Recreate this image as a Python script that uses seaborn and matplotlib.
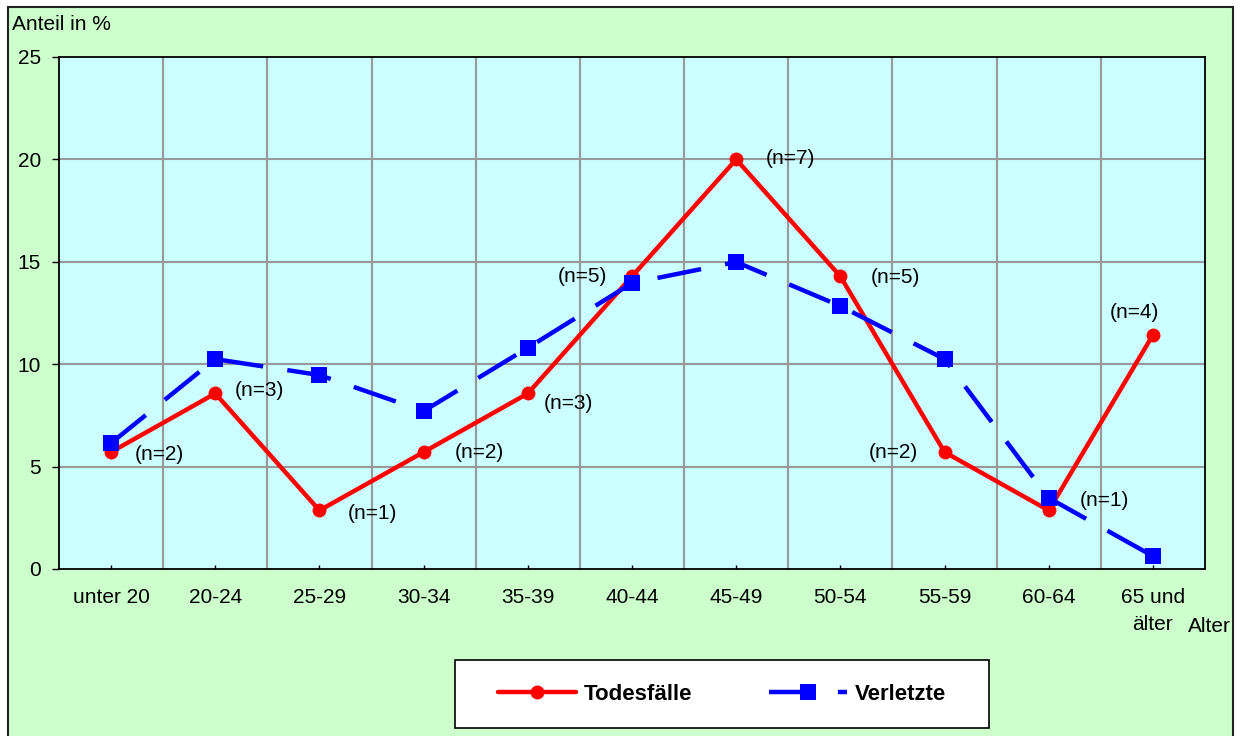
import matplotlib
matplotlib.use("Agg")
import matplotlib.pyplot as plt
from matplotlib.patches import Rectangle
import seaborn as sns
import pandas as pd

categories = ["unter 20", "20-24", "25-29", "30-34", "35-39", "40-44",
              "45-49", "50-54", "55-59", "60-64", "65 und\nälter"]
todesfaelle = [5.71, 8.57, 2.86, 5.71, 8.57, 14.29, 20.0, 14.29, 5.71, 2.86, 11.43]
verletzte = [6.15, 10.25, 9.47, 7.71, 10.8, 13.96, 14.99, 12.84, 10.25, 3.47, 0.63]
n_labels = ["(n=2)", "(n=3)", "(n=1)", "(n=2)", "(n=3)", "(n=5)",
            "(n=7)", "(n=5)", "(n=2)", "(n=1)", "(n=4)"]
yticks = [0, 5, 10, 15, 20, 25]

# label placement (layout): pixel offsets and alignment
n_offsets = [(24, -2, "left"), (19, 3, "left"), (28, -3, "left"), (31, 0, "left"),
             (16, -10, "left"), (-25, 0, "right"), (30, 1, "left"), (30, -1, "left"),
             (-27, 0, "right"), (31, 10, "left"), (-18, 22, "center")]

sns.set_style("white")
plt.rcParams["font.family"] = ["Liberation Sans", "DejaVu Sans"]
plt.rcParams["text.color"] = "black"

W, H = 1245, 736
fig = plt.figure(figsize=(W / 100, H / 100), dpi=100)
fig.patch.set_facecolor("white")

# outer green frame
fig.patches.append(Rectangle((8 / W, -0.01), (1233 - 8) / W, 1 - 7 / H + 0.01,
                             transform=fig.transFigure, facecolor="#CCFFCC",
                             edgecolor="#222222", linewidth=1.5, zorder=0))

ax = fig.add_axes([59 / W, (736 - 569) / H, (1205 - 59) / W, (569 - 57) / H])
ax.set_zorder(2)
ax.set_facecolor("#CCFFFF")

df = pd.DataFrame({"Alter": categories, "Todesfälle": todesfaelle, "Verletzte": verletzte})

sns.lineplot(data=df, x="Alter", y="Todesfälle", ax=ax, sort=False, color="#FF0000",
             linewidth=3.2, marker="o", markersize=10, markeredgewidth=0,
             label="Todesfälle", zorder=3)
sns.lineplot(data=df, x="Alter", y="Verletzte", ax=ax, sort=False, color="#0000FF",
             linewidth=3.2, marker="s", markersize=11, markeredgewidth=0,
             label="Verletzte", zorder=4)
for l in ax.get_lines():
    if l.get_color() == "#0000FF":
        l.set_dashes((10, 5.5))

handles, labels = ax.get_legend_handles_labels()
ax.get_legend().remove()

ax.set_xlim(-0.5, len(categories) - 0.5)
ax.set_ylim(0, 25)
ax.set_yticks(yticks)
ax.set_xticks(range(len(categories)))
ax.set_xticklabels(categories)
for lbl in ax.get_xticklabels():
    lbl.set_linespacing(1.5)
ax.set_xlabel("")
ax.set_ylabel("")

# grid at category boundaries and at y ticks
for i in range(len(categories) - 1):
    ax.axvline(i + 0.5, color="#999999", linewidth=1.5, zorder=1)
for y in yticks[1:-1]:
    ax.axhline(y, color="#999999", linewidth=1.5, zorder=1)

for s in ax.spines.values():
    s.set_color("black")
    s.set_linewidth(1.3)
    s.set_visible(True)

ax.tick_params(axis="x", direction="in", length=3, width=1, pad=14, labelsize=15,
               color="black", labelcolor="black", bottom=True)
ax.tick_params(axis="y", direction="out", length=5, width=1, pad=8, labelsize=15,
               color="black", labelcolor="black", left=True)

for i, (v, t) in enumerate(zip(todesfaelle, n_labels)):
    dx, dy, ha = n_offsets[i]
    ax.annotate(t, (i, v), xytext=(dx, dy), textcoords="offset pixels",
                ha=ha, va="center", fontsize=15, color="black", zorder=5)

fig.text(12 / W, 1 - 25 / H, "Anteil in %", ha="left", va="center", fontsize=15)
fig.text(1188 / W, 1 - 627 / H, "Alter", ha="left", va="center", fontsize=15)

# legend box
lx0, lx1, ly0, ly1 = 455, 989, 660, 728
fig.patches.append(Rectangle((lx0 / W, 1 - ly1 / H), (lx1 - lx0) / W, (ly1 - ly0) / H,
                             transform=fig.transFigure, facecolor="white",
                             edgecolor="black", linewidth=1.2, zorder=1))
leg = fig.legend(handles, labels, loc="center",
                 bbox_to_anchor=((lx0 + lx1) / 2 / W, 1 - (ly0 + ly1) / 2 / H),
                 ncol=2, frameon=False, handlelength=3.5, columnspacing=3.45,
                 handletextpad=0.36, prop={"weight": "bold", "size": 16})
leg.set_zorder(5)

fig.savefig("out.png", dpi=100)
